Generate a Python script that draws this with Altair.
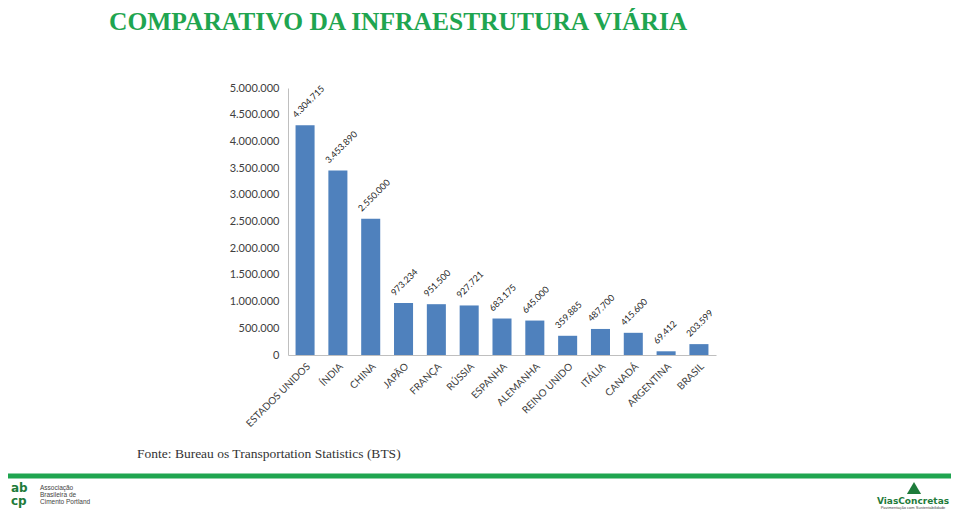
import altair as alt
import pandas as pd

countries = ["ESTADOS UNIDOS", "ÍNDIA", "CHINA", "JAPÃO", "FRANÇA", "RÚSSIA", "ESPANHA",
             "ALEMANHA", "REINO UNIDO", "ITÁLIA", "CANADÁ", "ARGENTINA", "BRASIL"]
values = [4304715, 3453890, 2550000, 973234, 951500, 927721, 683175,
          645000, 359885, 487700, 415600, 69412, 203599]
y_ticks = [0, 500000, 1000000, 1500000, 2000000, 2500000, 3000000, 3500000,
           4000000, 4500000, 5000000]

title_text = "COMPARATIVO DA INFRAESTRUTURA VIÁRIA"
source_text = "Fonte: Bureau os Transportation Statistics (BTS)"
abcp_lines = ["Associação", "Brasileira de", "Cimento Portland"]

df = pd.DataFrame({"pais": countries, "km": values})
one = pd.DataFrame({"k": [0]})

W, H = 428, 267
OX, OY = 288, 88  # plot origin on the page

fmt = "replace(format(datum.value, ','), /,/g, '.')"

x_enc = alt.X("pais:N", sort=None,
              scale=alt.Scale(paddingInner=0.42, paddingOuter=0.23),
              axis=alt.Axis(title=None, labelAngle=-45, labelFont="Lato", labelFontSize=10,
                            labelColor="#404040", ticks=False, domainColor="#BFBFBF",
                            labelPadding=6, labelOverlap=False))
y_enc = alt.Y("km:Q", scale=alt.Scale(domain=[0, 5000000], nice=False),
              axis=alt.Axis(title=None, values=y_ticks, labelExpr=fmt, grid=False,
                            ticks=False, domainColor="#BFBFBF", labelFont="Lato",
                            labelFontSize=11, labelColor="#404040", labelPadding=9,
                            labelOverlap=False))

base = alt.Chart(df).transform_calculate(
    lbl="replace(format(datum.km, ','), /,/g, '.')"
).encode(x=x_enc, y=y_enc)

bars = base.mark_bar(color="#4F81BD")

labels = base.mark_text(align="left", baseline="middle", angle=315, xOffset=-11, yOffset=-9,
                        font="Lato", fontSize=9, color="#262626").encode(text="lbl:N")

title = alt.Chart(one).mark_text(align="left", baseline="middle", font="Liberation Serif",
                                 fontWeight="bold", fontSize=25.5, color="#1FA550").encode(
    x=alt.value(109 - OX), y=alt.value(22 - OY), text=alt.value(title_text))

source = alt.Chart(one).mark_text(align="left", baseline="middle", font="Liberation Serif",
                                  fontSize=13.5, color="#333333").encode(
    x=alt.value(137 - OX), y=alt.value(454 - OY), text=alt.value(source_text))

green_line = alt.Chart(one).mark_rule(color="#1FA550", strokeWidth=5).encode(
    x=alt.value(-OX), x2=alt.value(959 - OX), y=alt.value(476 - OY))

abcp_logo = alt.Chart(pd.DataFrame({"t": ["ab", "cp"], "yy": [488 - OY, 501 - OY]})).mark_text(
    align="left", baseline="middle", font="DejaVu Sans", fontWeight="bold", fontSize=12,
    color="#1E7B3A").encode(
    x=alt.value(11 - OX), y=alt.Y("yy:Q", scale=None), text="t:N")

abcp_text = alt.Chart(pd.DataFrame({"t": abcp_lines, "yy": [488 - OY, 495 - OY, 502 - OY]})).mark_text(
    align="left", baseline="middle", font="Liberation Sans", fontSize=6.5,
    color="#444444").encode(
    x=alt.value(40 - OX), y=alt.Y("yy:Q", scale=None), text="t:N")

vias_arrow = alt.Chart(one).mark_point(shape="triangle-up", filled=True, size=200,
                                       color="#1E7B3A", opacity=1).encode(
    x=alt.value(914 - OX), y=alt.value(488 - OY))

vias_name = alt.Chart(one).mark_text(align="center", baseline="middle", font="DejaVu Sans",
                                     fontWeight="bold", fontSize=9, color="#1E7B3A").encode(
    x=alt.value(913 - OX), y=alt.value(501 - OY), text=alt.value("ViasConcretas"))

vias_sub = alt.Chart(one).mark_text(align="center", baseline="middle", font="Liberation Sans",
                                    fontSize=4, color="#444444").encode(
    x=alt.value(913 - OX), y=alt.value(508 - OY), text=alt.value("Pavimentação com Sustentabilidade"))

chart = alt.layer(
    bars, labels, title, source, green_line, abcp_logo, abcp_text,
    vias_arrow, vias_name, vias_sub
).properties(
    width=W, height=H,
    background="white",
    autosize=alt.AutoSizeParams(type="none"),
    padding={"left": OX - 8, "top": OY - 8, "right": 943 - (OX - 8) - W, "bottom": 503 - (OY - 8) - H},
).configure_view(stroke=None)

chart.save("out.html", embed_options={"renderer": "svg", "actions": False})
